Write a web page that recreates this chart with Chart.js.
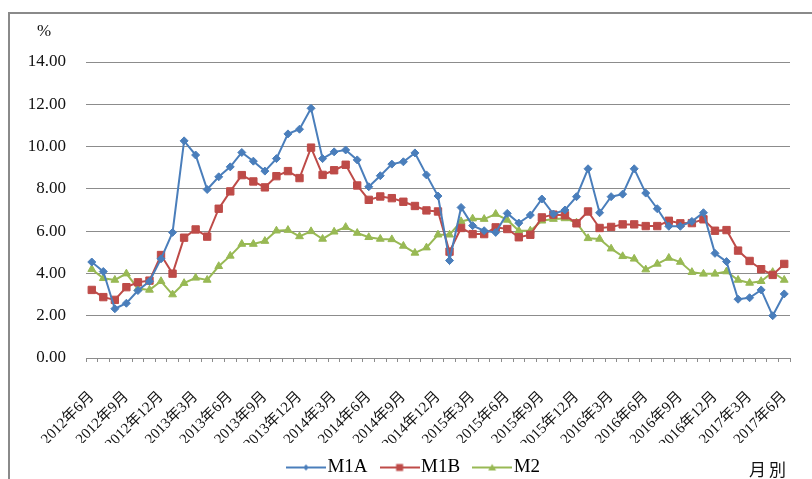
<!DOCTYPE html>
<html>
<head>
<meta charset="utf-8">
<script src="https://cdn.jsdelivr.net/npm/chart.js@4"></script>
<style>
	html, body { margin: 0; padding: 0; background: #fff; }
	.wrap { position: relative; width: 812px; height: 479px; overflow: hidden; }
	.frame { position: absolute; left: 8px; top: 12px; width: 830px; height: 490px; border-left: 2px solid #8a8a8a; border-top: 2px solid #8a8a8a; pointer-events: none; }
	.unit { position: absolute; left: 37px; top: 21px; font: 17px 'Liberation Serif', serif; color: #111; }
	.xname { position: absolute; left: 749px; top: 456px; font: 17px 'Noto Sans CJK TC', sans-serif; letter-spacing: 3px; color: #111; }
	canvas { position: absolute; left: 0; top: 0; }
</style>
</head>
<body>
<div class="wrap">
	<canvas id="chart" width="812" height="479"></canvas>
	<div class="frame"></div>
	<div class="unit">%</div>
	<div class="xname">月別</div>
</div>
<script>
const months = [
	'2012年6月', '2012年7月', '2012年8月', '2012年9月', '2012年10月', '2012年11月', '2012年12月',
	'2013年1月', '2013年2月', '2013年3月', '2013年4月', '2013年5月', '2013年6月', '2013年7月', '2013年8月', '2013年9月', '2013年10月', '2013年11月', '2013年12月',
	'2014年1月', '2014年2月', '2014年3月', '2014年4月', '2014年5月', '2014年6月', '2014年7月', '2014年8月', '2014年9月', '2014年10月', '2014年11月', '2014年12月',
	'2015年1月', '2015年2月', '2015年3月', '2015年4月', '2015年5月', '2015年6月', '2015年7月', '2015年8月', '2015年9月', '2015年10月', '2015年11月', '2015年12月',
	'2016年1月', '2016年2月', '2016年3月', '2016年4月', '2016年5月', '2016年6月', '2016年7月', '2016年8月', '2016年9月', '2016年10月', '2016年11月', '2016年12月',
	'2017年1月', '2017年2月', '2017年3月', '2017年4月', '2017年5月', '2017年6月'
];

const m1a = [
	4.54, 4.09, 2.33, 2.59, 3.19, 3.63, 4.69, 5.94, 10.27, 9.60, 7.97, 8.57, 9.04, 9.72, 9.31, 8.84, 9.43, 10.60, 10.82, 11.81,
	9.43, 9.75, 9.84, 9.37, 8.10, 8.62, 9.17, 9.28, 9.70, 8.66, 7.66, 4.61, 7.12, 6.26, 6.02, 5.94, 6.84, 6.38, 6.76, 7.52,
	6.81, 7.00, 7.63, 8.95, 6.87, 7.63, 7.75, 8.95, 7.80, 7.06, 6.23, 6.23, 6.46, 6.87, 4.95, 4.56, 2.78, 2.85, 3.22, 2.00, 3.03
];
const m1b = [
	3.22, 2.88, 2.75, 3.35, 3.58, 3.66, 4.87, 3.99, 5.69, 6.08, 5.74, 7.06, 7.88, 8.65, 8.35, 8.07, 8.60, 8.84, 8.51, 9.95,
	8.66, 8.88, 9.14, 8.16, 7.48, 7.64, 7.56, 7.39, 7.19, 6.98, 6.93, 5.03, 6.15, 5.86, 5.86, 6.18, 6.10, 5.71, 5.83, 6.65,
	6.78, 6.75, 6.37, 6.93, 6.15, 6.20, 6.32, 6.32, 6.24, 6.24, 6.49, 6.37, 6.38, 6.56, 6.02, 6.05, 5.08, 4.59, 4.20, 3.93, 4.45
];
const m2 = [
	4.20, 3.77, 3.69, 3.99, 3.29, 3.22, 3.63, 3.00, 3.54, 3.79, 3.69, 4.34, 4.83, 5.39, 5.39, 5.53, 6.02, 6.05, 5.75, 5.99,
	5.63, 5.97, 6.19, 5.91, 5.71, 5.63, 5.61, 5.30, 4.97, 5.22, 5.83, 5.83, 6.46, 6.59, 6.57, 6.81, 6.53, 6.02, 6.02, 6.49,
	6.57, 6.60, 6.40, 5.66, 5.63, 5.17, 4.81, 4.69, 4.18, 4.45, 4.73, 4.54, 4.06, 3.98, 3.98, 4.09, 3.69, 3.55, 3.63, 4.06, 3.69
];
const y_ticks = [0, 2, 4, 6, 8, 10, 12, 14];

const serif = "'Liberation Serif', 'Noto Sans CJK TC', serif";
const grid_color = '#8c8c8c';

// little legend icon: line with the marker in the middle
function legend_icon(color, shape) {
	let c = document.createElement('canvas');
	c.width = 40;
	c.height = 12;
	let ctx = c.getContext('2d');
	ctx.strokeStyle = color;
	ctx.fillStyle = color;
	ctx.lineWidth = 2;
	ctx.beginPath();
	ctx.moveTo(0, 6);
	ctx.lineTo(40, 6);
	ctx.stroke();
	ctx.beginPath();
	if (shape === 'diamond') {
		ctx.moveTo(20, 3); ctx.lineTo(23, 6); ctx.lineTo(20, 9); ctx.lineTo(17, 6);
	} else if (shape === 'square') {
		ctx.rect(16.5, 2.5, 7, 7);
	} else {
		ctx.moveTo(20, 2.5); ctx.lineTo(24, 9); ctx.lineTo(16, 9);
	}
	ctx.closePath();
	ctx.fill();
	return c;
}

function series(label, data, color, style, radius, shape) {
	return {
		label: label,
		data: data,
		borderColor: color,
		backgroundColor: color,
		borderWidth: 2,
		pointStyle: style,
		pointRadius: radius,
		pointHoverRadius: radius,
		pointBorderWidth: 1,
		tension: 0,
		legendIcon: legend_icon(color, shape)
	};
}

// the legend sits centred on the frame, not on the plot, and near the bottom edge
const legend_shift = {
	id: 'legend_shift',
	afterLayout(chart) {
		let lg = chart.legend;
		let h = lg.height;
		lg.left = 44;
		lg.right = 790;
		lg.width = 746;
		lg.top = 438;
		lg.bottom = 438 + h;
	}
};

const config = {
	type: 'line',
	data: {
		labels: months,
		datasets: [
			series('M1A', m1a, '#4a7ebb', 'rectRot', 4, 'diamond'),
			series('M1B', m1b, '#be4b48', 'rect', 5.2, 'square'),
			series('M2', m2, '#98b954', 'triangle', 4.5, 'triangle')
		]
	},
	options: {
		responsive: false,
		animation: false,
		layout: {
			padding: { left: 0, right: 22, top: 62, bottom: -13 }
		},
		plugins: {
			legend: {
				display: true,
				position: 'bottom',
				labels: {
					usePointStyle: true,
					pointStyleWidth: 24,
					padding: 20,
					color: '#111',
					font: { family: serif, size: 19 },
					generateLabels: function(chart) {
						return chart.data.datasets.map(function(ds, i) {
							return {
								text: ds.label,
								pointStyle: ds.legendIcon,
								fillStyle: ds.borderColor,
								strokeStyle: ds.borderColor,
								lineWidth: 0,
								hidden: false,
								datasetIndex: i
							};
						});
					}
				}
			},
			tooltip: { enabled: false }
		},
		scales: {
			x: {
				offset: true,
				afterFit: function(scale) {
					scale.height = 85;
					// rotated labels end at their tick, the plot keeps its full width
					scale.paddingLeft = 0;
					scale.paddingRight = 0;
				},
				grid: {
					display: true,
					offset: true,
					drawOnChartArea: false,
					drawTicks: true,
					tickLength: 4,
					color: grid_color
				},
				border: { display: true, color: grid_color, width: 1 },
				ticks: {
					autoSkip: false,
					maxRotation: 45,
					minRotation: 45,
					padding: 26,
					color: '#111',
					font: { family: serif, size: 15 },
					callback: function(value, index) {
						return index % 3 === 0 ? months[index] : '';
					}
				}
			},
			y: {
				min: 0,
				max: 14,
				afterBuildTicks: function(scale) {
					scale.ticks = y_ticks.map(function(v) { return { value: v }; });
				},
				afterFit: function(scale) {
					scale.width = 86;
				},
				grid: {
					display: true,
					drawTicks: false,
					color: grid_color,
					lineWidth: 1
				},
				border: { display: false },
				ticks: {
					padding: 20,
					color: '#111',
					font: { family: serif, size: 17 },
					callback: function(value) {
						return value.toFixed(2);
					}
				}
			}
		}
	},
	plugins: [legend_shift]
};

new Chart(document.getElementById('chart'), config);
</script>
</body>
</html>
